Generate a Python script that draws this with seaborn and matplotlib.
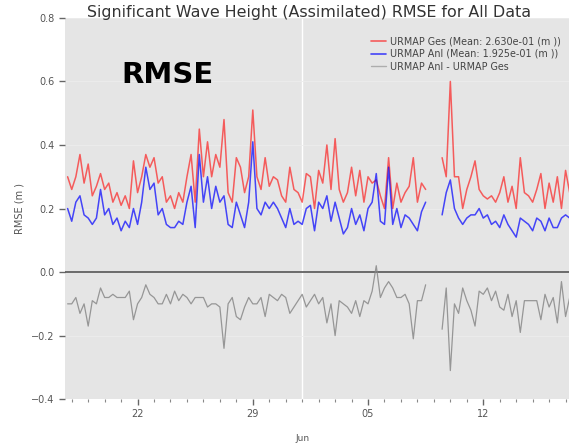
import numpy as np
import pandas as pd
import matplotlib
matplotlib.use("Agg")
import matplotlib.pyplot as plt
import matplotlib.dates as mdates
from matplotlib.lines import Line2D
import seaborn as sns

# 6-hourly analysis times
start_time = "2016-05-17 18:00"
n_points = 123
gap_idx = [88, 89, 90]  # missing cycles around Jun 8-9

ges = [0.30, 0.26, 0.30, 0.37, 0.28, 0.34, 0.24, 0.27, 0.31, 0.26,
       0.28, 0.22, 0.25, 0.21, 0.24, 0.20, 0.35, 0.25, 0.30, 0.37,
       0.33, 0.36, 0.28, 0.30, 0.22, 0.24, 0.20, 0.25, 0.22, 0.30,
       0.37, 0.22, 0.45, 0.30, 0.41, 0.30, 0.37, 0.33, 0.48, 0.25,
       0.22, 0.36, 0.33, 0.25, 0.30, 0.51, 0.30, 0.26, 0.36, 0.27,
       0.30, 0.29, 0.24, 0.22, 0.33, 0.26, 0.25, 0.22, 0.31, 0.30,
       0.20, 0.32, 0.28, 0.40, 0.26, 0.42, 0.26, 0.22, 0.25, 0.33,
       0.24, 0.32, 0.22, 0.30, 0.28, 0.29, 0.24, 0.20, 0.36, 0.20,
       0.28, 0.22, 0.25, 0.27, 0.36, 0.22, 0.28, 0.26, np.nan, np.nan,
       np.nan, 0.36, 0.30, 0.60, 0.30, 0.30, 0.20, 0.26, 0.30, 0.35,
       0.26, 0.24, 0.23, 0.24, 0.22, 0.25, 0.30, 0.22, 0.27, 0.20,
       0.36, 0.25, 0.24, 0.22, 0.26, 0.31, 0.20, 0.28, 0.22, 0.30,
       0.20, 0.32, 0.25]

anl = [0.20, 0.16, 0.22, 0.24, 0.18, 0.17, 0.15, 0.17, 0.26, 0.18,
       0.20, 0.15, 0.17, 0.13, 0.16, 0.14, 0.20, 0.15, 0.22, 0.33,
       0.26, 0.28, 0.18, 0.20, 0.15, 0.14, 0.14, 0.16, 0.15, 0.22,
       0.27, 0.14, 0.37, 0.22, 0.30, 0.20, 0.27, 0.22, 0.24, 0.15,
       0.14, 0.22, 0.18, 0.14, 0.22, 0.41, 0.20, 0.18, 0.22, 0.20,
       0.22, 0.20, 0.17, 0.14, 0.20, 0.15, 0.16, 0.15, 0.20, 0.21,
       0.13, 0.22, 0.20, 0.24, 0.16, 0.22, 0.17, 0.12, 0.14, 0.20,
       0.15, 0.18, 0.13, 0.20, 0.22, 0.31, 0.16, 0.15, 0.33, 0.15,
       0.20, 0.14, 0.18, 0.17, 0.15, 0.13, 0.19, 0.22, np.nan, np.nan,
       np.nan, 0.18, 0.25, 0.29, 0.20, 0.17, 0.15, 0.17, 0.18, 0.18,
       0.20, 0.17, 0.18, 0.15, 0.16, 0.14, 0.18, 0.15, 0.13, 0.11,
       0.17, 0.16, 0.15, 0.13, 0.17, 0.16, 0.13, 0.17, 0.14, 0.14,
       0.17, 0.18, 0.17]

labels = ["URMAP Ges (Mean: 2.630e-01 (m ))",
          "URMAP Anl (Mean: 1.925e-01 (m ))",
          "URMAP Anl - URMAP Ges"]
y_ticks = [-0.4, -0.2, 0.0, 0.2, 0.4, 0.6, 0.8]

times = pd.date_range(start_time, periods=n_points, freq="6h")
df = pd.DataFrame({"time": times, "ges": ges, "anl": anl})
df["diff"] = df["anl"] - df["ges"]
seg = np.zeros(n_points, dtype=int)
seg[gap_idx[-1] + 1:] = 1
df["seg"] = seg
df = df.dropna()

sns.set_theme(style="darkgrid")
plt.rcParams["font.family"] = ["DejaVu Sans"]
plt.rcParams["xtick.bottom"] = True
plt.rcParams["ytick.left"] = True

fig = plt.figure(figsize=(5.69, 4.47), dpi=100)
ax = fig.add_axes([0.114, 0.107, 0.886, 0.853])
ax.set_facecolor("#E5E5E5")

ax.axhline(0.0, color="#555555", lw=1.2, zorder=1)
sns.lineplot(data=df, x="time", y="ges", units="seg", estimator=None,
             color="#FF0000", alpha=0.6, lw=1.1, ax=ax)
sns.lineplot(data=df, x="time", y="anl", units="seg", estimator=None,
             color="#0000FF", alpha=0.7, lw=1.1, ax=ax)
sns.lineplot(data=df, x="time", y="diff", units="seg", estimator=None,
             color="#888888", alpha=0.85, lw=0.9, ax=ax)

ax.set_ylim(-0.4, 0.8)
ax.set_yticks(y_ticks)
ax.set_yticklabels([f"{v:.1f}".replace("-", "\u2212") for v in y_ticks])
ax.set_xlim(pd.Timestamp("2016-05-17 14:00"), pd.Timestamp("2016-06-17 05:00"))

ax.xaxis.set_major_locator(mdates.DayLocator(bymonthday=[5, 12, 22, 29]))
ax.xaxis.set_major_formatter(mdates.DateFormatter("%d"))
ax.xaxis.set_minor_locator(mdates.DayLocator())
ax.grid(False)
ax.axvline(pd.Timestamp("2016-06-01"), color="white", lw=1.0, zorder=0)
for yv in y_ticks:
    ax.axhline(yv, color="#EDEDED", lw=0.6, zorder=0)

ax.tick_params(axis="x", which="major", bottom=True, length=4, width=1.0,
               color="#666666", labelsize=7, labelcolor="#555555", pad=3,
               direction="out")
ax.tick_params(axis="x", which="minor", bottom=True, length=2.5, width=0.8,
               color="#888888", direction="out")
ax.tick_params(axis="y", which="major", left=True, length=4, width=1.0,
               color="#666666", labelsize=7, labelcolor="#555555",
               direction="out")

ax.text(pd.Timestamp("2016-06-01"), -0.525, "Jun", fontsize=6.5, color="#555555",
        ha="center", va="center", transform=ax.transData, clip_on=False)

ax.set_xlabel("")
ax.set_ylabel("RMSE (m )", fontsize=7, color="#555555", labelpad=5)
for s in ax.spines.values():
    s.set_visible(False)

fig.text(0.543, 0.972, "Significant Wave Height (Assimilated) RMSE for All Data",
         ha="center", va="center", fontsize=11.4, color="#333333")

handles = [Line2D([], [], color="#FF0000", alpha=0.6, lw=1.2),
           Line2D([], [], color="#0000FF", alpha=0.7, lw=1.2),
           Line2D([], [], color="#888888", alpha=0.6, lw=1.0)]
ax.legend(handles, labels, loc="upper right", fontsize=6.9, frameon=False,
          handlelength=1.5, handletextpad=0.4, labelspacing=0.3,
          bbox_to_anchor=(1.0, 0.975), labelcolor="#444444")

fig.text(0.294, 0.832, "RMSE", fontsize=21, fontweight="bold", color="black",
         ha="center", va="center")

fig.savefig("out.png", dpi=100)
